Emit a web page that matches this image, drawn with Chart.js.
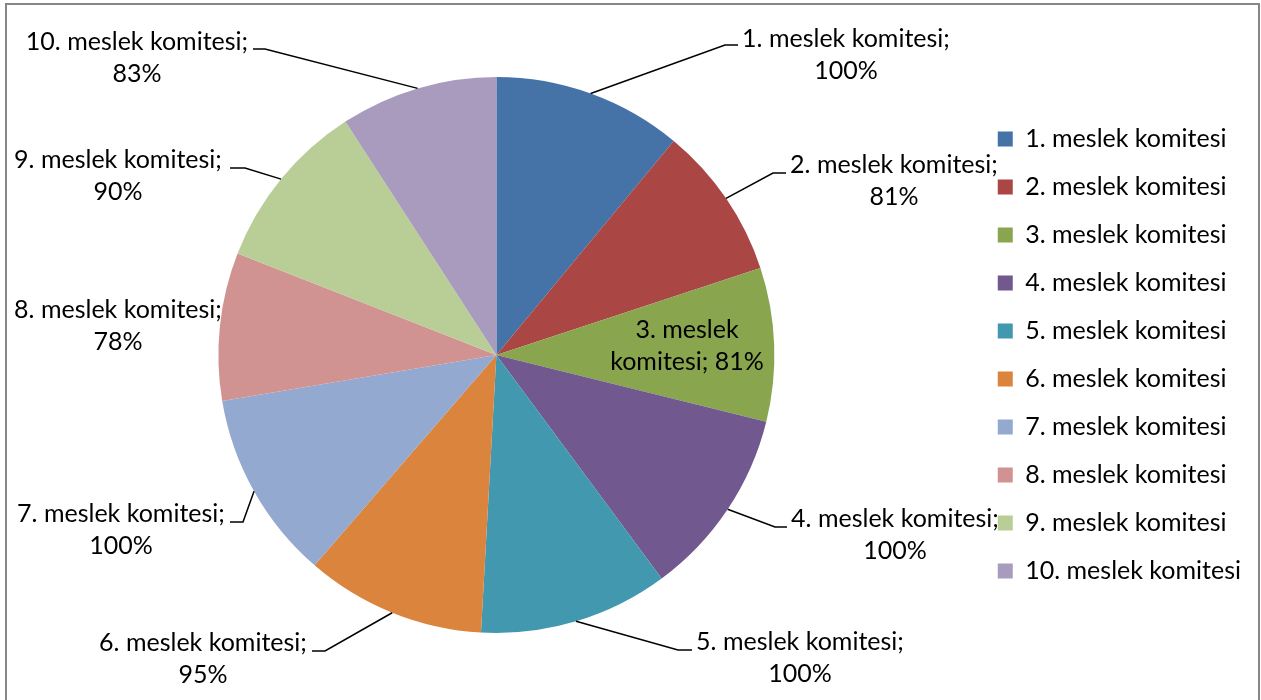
<!DOCTYPE html>
<html>
<head>
<meta charset="utf-8">
<script src="https://cdn.jsdelivr.net/npm/chart.js@4.4.1/dist/chart.umd.min.js"></script>
<style>
  html, body { margin: 0; padding: 0; background: #fff; }
  #wrap { position: relative; width: 1261px; height: 700px; }
</style>
</head>
<body>
<div id="wrap"><canvas id="pieChart"></canvas></div>
<script>
// === DATA ===
const categories = ['1. meslek komitesi', '2. meslek komitesi', '3. meslek komitesi', '4. meslek komitesi', '5. meslek komitesi',
  '6. meslek komitesi', '7. meslek komitesi', '8. meslek komitesi', '9. meslek komitesi', '10. meslek komitesi'];
const percentValues = [100, 81, 81, 100, 100, 95, 100, 78, 90, 83];

// slice colours (Excel 2007 style)
const sliceColors = ['#4572A7', '#AA4643', '#89A54E', '#71588F', '#4198AF', '#DB843D', '#93A9CF', '#D19392', '#B9CD96', '#A99BBD'];

// label placement: text centre x, first baseline y, leader stub (x from, x to, y), inside = label drawn in slice
const labelPlace = [
  { cx: 846, by: 47, stub: [738, 725, 45] },
  { cx: 894, by: 173, stub: [786, 773, 173] },
  { cx: 687, by: 338, inside: true },
  { cx: 895, by: 527, stub: [787, 775, 527] },
  { cx: 800, by: 650, stub: [692, 678, 650] },
  { cx: 203, by: 651, stub: [312, 325, 651] },
  { cx: 121, by: 522, stub: [230, 243, 522] },
  { cx: 118, by: 318, stub: null },
  { cx: 118, by: 168, stub: [230, 245, 168] },
  { cx: 137, by: 50, stub: [253, 265, 49] }
];

const FONT = 'Lato';
const FONT_SIZE = 25;
const LINE_GAP = 32;

const labelPlugin = {
  id: 'excelLabels',
  beforeDraw(chart) {
    const ctx = chart.ctx;
    ctx.save();
    ctx.strokeStyle = '#868686';
    ctx.lineWidth = 2;
    ctx.strokeRect(6, 4, 1253, 720);
    ctx.restore();
  },
  afterDraw(chart) {
    const ctx = chart.ctx;
    const arcs = chart.getDatasetMeta(0).data;
    ctx.save();
    ctx.font = FONT_SIZE + 'px ' + FONT;
    ctx.fillStyle = '#000';
    ctx.textAlign = 'center';
    ctx.textBaseline = 'alphabetic';
    ctx.strokeStyle = '#000';
    ctx.lineWidth = 1.5;
    arcs.forEach((arc, i) => {
      const p = labelPlace[i];
      let line1 = categories[i] + ';';
      let line2 = percentValues[i] + '%';
      if (p.inside) {
        const words = (categories[i] + '; ' + percentValues[i] + '%').split(' ');
        line1 = words.slice(0, 2).join(' ');
        line2 = words.slice(2).join(' ');
      }
      if (p.stub) {
        const mid = (arc.startAngle + arc.endAngle) / 2;
        const ex = arc.x + Math.cos(mid) * arc.outerRadius;
        const ey = arc.y + Math.sin(mid) * arc.outerRadius;
        ctx.beginPath();
        ctx.moveTo(p.stub[0], p.stub[2]);
        ctx.lineTo(p.stub[1], p.stub[2]);
        ctx.lineTo(ex, ey);
        ctx.stroke();
      }
      ctx.fillText(line1, p.cx, p.by);
      ctx.fillText(line2, p.cx, p.by + LINE_GAP);
    });
    ctx.restore();
  }
};

new Chart(document.getElementById('pieChart'), {
  type: 'pie',
  data: {
    labels: categories,
    datasets: [{
      data: percentValues,
      backgroundColor: sliceColors,
      borderWidth: 0
    }]
  },
  options: {
    responsive: true,
    maintainAspectRatio: false,
    animation: false,
    layout: { padding: { top: 77, bottom: 67, left: 18, right: 10 } },
    plugins: {
      legend: {
        position: 'right',
        labels: {
          boxWidth: 15,
          boxHeight: 15,
          padding: 23,
          color: '#000',
          font: { family: FONT, size: FONT_SIZE }
        }
      },
      tooltip: { enabled: false }
    }
  },
  plugins: [labelPlugin]
});
</script>
</body>
</html>
